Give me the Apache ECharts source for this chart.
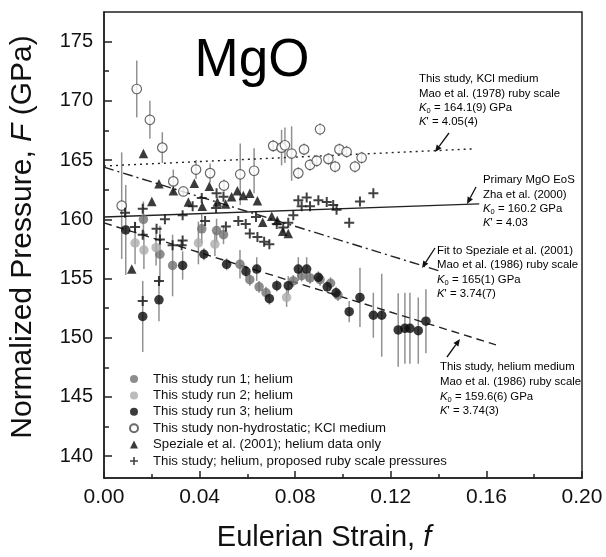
<!DOCTYPE html>
<html><head><meta charset="utf-8">
<script src="https://cdn.jsdelivr.net/npm/echarts@6/dist/echarts.min.js"></script>
<style>html,body{margin:0;padding:0;background:#fff}#c{width:606px;height:557px}</style>
</head><body><div id="c"></div>
<script>
// ---- data: [strain f, normalized pressure F, error] ----
const run1 = [[0.0165,160.0,1.5],[0.0234,157.05,2.4],[0.0287,156.1,2.6],[0.0409,159.2,1.2],[0.0471,159.05,1.0],[0.0500,158.7,0.8],[0.0569,156.2,1.2],[0.0610,154.9,0.5],[0.0649,154.3,0.5],[0.0678,153.8,0.5],[0.0792,154.8,0.5],[0.0827,155.25,0.5],[0.0862,155.05,0.5],[0.0904,154.9,0.5],[0.0948,154.6,0.5],[0.0979,153.6,0.5]];
const run2 = [[0.0130,158.0,1.8],[0.0167,157.4,1.6],[0.0218,157.6,1.5],[0.0395,158.0,1.8],[0.0464,157.9,1.0],[0.0764,153.4,0.8]];
const run3 = [[0.0091,159.1,3.8],[0.0162,151.8,3.0],[0.0230,153.2,1.8],[0.0329,156.1,1.2],[0.0418,157.05,0.5],[0.0513,156.2,0.5],[0.0594,155.6,0.5],[0.0639,155.8,1.0],[0.0692,153.3,0.5],[0.0723,154.4,0.5],[0.0771,154.4,0.8],[0.0813,155.8,1.0],[0.0848,155.8,1.0],[0.0897,155.1,0.5],[0.0934,154.3,0.5],[0.0971,153.8,0.5],[0.1026,152.2,0.9],[0.1071,153.4,2.5],[0.1127,151.9,1.9],[0.1162,151.9,3.5],[0.1231,150.66,3.1],[0.1259,150.8,3.0],[0.1280,150.8,3.0],[0.1315,150.6,2.8],[0.1347,151.4,2.7]];
const kcl = [[0.0074,161.15,4.5],[0.0137,171.0,2.4],[0.0192,168.4,1.6],[0.0244,166.05,1.3],[0.0290,163.2,1.0],[0.0332,162.35,0.3],[0.0385,164.2,0.8],[0.0444,163.9,0.8],[0.0502,162.85,0.5],[0.0570,163.8,2.6],[0.0628,164.1,1.9],[0.0708,166.2,0.5],[0.0743,166.05,1.5],[0.0757,166.25,1.5],[0.0785,165.55,2.3],[0.0813,163.9,0.5],[0.0837,165.9,0.5],[0.0862,164.6,0.5],[0.0890,164.94,0.5],[0.0904,167.6,0.5],[0.0939,165.1,0.5],[0.0967,164.45,0.5],[0.0985,165.9,0.5],[0.1015,165.7,0.5],[0.1050,164.45,0.5],[0.1078,165.2,0.5]];
const speziale = [[0.0116,155.8],[0.0165,165.55],[0.0200,161.5],[0.0230,163.0],[0.0290,162.4],[0.0353,161.45],[0.0378,163.05],[0.0411,161.1],[0.0441,162.8],[0.0474,161.45],[0.0509,161.3],[0.0534,161.9],[0.0558,162.4],[0.0583,162.0],[0.0610,162.2],[0.0642,161.57],[0.0664,159.76],[0.0702,160.26],[0.0725,159.9],[0.0748,159.0],[0.0771,158.8]];
const proposed = [[0.0088,160.55],[0.0130,159.35],[0.0162,160.9],[0.0162,158.7],[0.0162,153.1],[0.0220,159.2],[0.0234,158.3],[0.0230,154.8],[0.0255,160.0],[0.0287,157.8],[0.0329,160.35],[0.0329,158.2],[0.0325,157.8],[0.0371,161.1],[0.0409,161.8],[0.0423,159.85],[0.0471,162.2],[0.0469,160.95],[0.0500,161.9],[0.0510,159.4],[0.0562,159.85],[0.0593,159.6],[0.0610,158.8],[0.0636,160.2],[0.0642,158.5],[0.0670,158.1],[0.0692,157.9],[0.0723,159.6],[0.0750,159.3],[0.0771,159.7],[0.0792,160.35],[0.0813,161.6],[0.0827,161.1],[0.0848,161.85],[0.0862,161.1],[0.0897,161.6],[0.0932,161.45],[0.0959,161.2],[0.0973,160.8],[0.1026,159.7],[0.1071,161.5],[0.1127,162.2]];
// fit lines (endpoints)
const kclFit = [[0,164.5],[0.155,165.95]];
const zhaFit = [[0,160.2],[0.157,161.3]];
const spezFit = [[0,164.4],[0.141,155.6]];
const heFit = [[0,159.7],[0.164,149.4]];
// ticks
const yMajor = [140,145,150,155,160,165,170,175];
const yMinor = [142.5,147.5,152.5,157.5,162.5,167.5,172.5];
const xMajor = [0,0.04,0.08,0.12,0.16,0.2];
const xMinor = [0.02,0.06,0.1,0.14,0.18];
const legendNames = ['This study run 1; helium','This study run 2; helium','This study run 3; helium','This study non-hydrostatic; KCl medium','Speziale et al. (2001); helium data only','This study; helium, proposed ruby scale pressures'];

const FONT = 'Liberation Sans, Arial, sans-serif';
const PLUS = 'path://M4,0H6V4H10V6H6V10H4V6H0V4H4Z';

function errSeries(data){
  return {type:'custom', silent:true, z:1, xAxisIndex:0, yAxisIndex:0,
    data: data.filter(d=>d[2]>0).map(d=>[d[0], d[1]-d[2], d[1]+d[2]]),
    encode:{x:0, y:[1,2]},
    renderItem:(params, api)=>{
      const lo = api.coord([api.value(0), api.value(1)]);
      const hi = api.coord([api.value(0), api.value(2)]);
      return {type:'line', shape:{x1:lo[0],y1:lo[1],x2:hi[0],y2:hi[1]}, style:{stroke:'#919191', lineWidth:1.5}};
    }};
}
function fitLine(data, type){
  return {type:'line', data:data, showSymbol:false, silent:true, z:2, lineStyle:{color:'#222', width:1.4, type:type}};
}
function scatter(name, data, sym, size, style){
  return {type:'scatter', name:name, data:data.map(d=>[d[0],d[1]]), symbol:sym, symbolSize:size, symbolKeepAspect:true, z:5, itemStyle:style};
}
function arrow(x1,y1,x2,y2){
  const a = Math.atan2(y2-y1, x2-x1), L=7, W=3;
  const bx = x2 - L*Math.cos(a), by = y2 - L*Math.sin(a);
  const px = -Math.sin(a)*W, py = Math.cos(a)*W;
  return [
    {type:'line', shape:{x1:x1,y1:y1,x2:bx,y2:by}, style:{stroke:'#111', lineWidth:1.3}},
    {type:'polygon', shape:{points:[[x2,y2],[bx+px,by+py],[bx-px,by-py]]}, style:{fill:'#111'}}
  ];
}
const AF = 11.4;
const annRich = {
  n:{fontSize:AF, fontFamily:FONT, color:'#222'},
  k:{fontSize:AF, fontFamily:FONT, fontStyle:'italic', color:'#222'},
  s:{fontSize:7.5, fontFamily:FONT, color:'#222', padding:[6,0,0,0]}
};
function annText(x, ys, lines){
  return lines.map((t,i)=>({type:'text', x:x, y:ys[i], style:{text:t, rich:annRich, verticalAlign:'middle', align:'left', font:AF+'px '+FONT}}));
}
function k0(v){ return '{k|K}{s|0}{n| = '+v+'}'; }
function kp(v){ return '{k|K}{n|\' = '+v+'}'; }

const graphics = [
  {type:'text', x:252, y:61, style:{text:'MgO', font:'53px '+FONT, fill:'#000', align:'center', verticalAlign:'middle'}},
  ...annText(419,[79,93.5,108,122],['{n|This study, KCl medium}','{n|Mao et al. (1978) ruby scale}',k0('164.1(9) GPa'),kp('4.05(4)')]),
  ...annText(483,[180,194.5,209,223],['{n|Primary MgO EoS}','{n|Zha et al. (2000)}',k0('160.2 GPa'),kp('4.03')]),
  ...annText(437,[251,265,279.5,293.5],['{n|Fit to Speziale et al. (2001)}','{n|Mao et al. (1986) ruby scale}',k0('165(1) GPa'),kp('3.74(7)')]),
  ...annText(440,[367,382,397,411],['{n|This study, helium medium}','{n|Mao et al. (1986) ruby scale}',k0('159.6(6) GPa'),kp('3.74(3)')]),
  ...arrow(449,133,435,152),
  ...arrow(476,187,467,204),
  ...arrow(435,248,422,268),
  ...arrow(447,357,460,339)
];

const chart = echarts.init(document.getElementById('c'), null, {renderer:'canvas'});
const axisLine = {show:true, lineStyle:{color:'#222', width:1.5}};
chart.setOption({
  animation:false,
  backgroundColor:'#fff',
  grid:{left:104, right:24, top:12, bottom:74, show:true, borderColor:'#222', borderWidth:1.5, containLabel:false},
  xAxis:[
    {type:'value', min:0, max:0.2, position:'bottom', axisLine:axisLine, splitLine:{show:false},
     axisTick:{inside:true, length:7, customValues:xMajor, lineStyle:{color:'#222', width:1.5}},
     axisLabel:{customValues:xMajor, formatter:v=>v.toFixed(2), fontSize:21, fontFamily:FONT, color:'#111', margin:9},
     name:'{n|Eulerian Strain, }{i|f}', nameLocation:'middle', nameGap:45,
     nameTextStyle:{padding:[0,38,0,0], rich:{n:{fontSize:29, fontFamily:FONT, color:'#111'}, i:{fontSize:29, fontFamily:FONT, fontStyle:'italic', color:'#111'}}}},
    {type:'value', min:0, max:0.2, position:'bottom', axisLine:{show:false}, splitLine:{show:false},
     axisTick:{inside:true, length:4, customValues:xMinor, lineStyle:{color:'#222', width:1.5}},
     axisLabel:{show:false}}
  ],
  yAxis:[
    {type:'value', min:138.16, max:177.5, position:'left', axisLine:axisLine, splitLine:{show:false},
     axisTick:{inside:true, length:8, customValues:yMajor, lineStyle:{color:'#222', width:1.5}},
     axisLabel:{customValues:yMajor, fontSize:20, fontFamily:FONT, color:'#111', margin:11},
     name:'{n|Normalized Pressure, }{i|F}{n| (GPa)}', nameLocation:'middle', nameGap:66,
     nameTextStyle:{padding:[0,0,0,16], rich:{n:{fontSize:30, fontFamily:FONT, color:'#111'}, i:{fontSize:30, fontFamily:FONT, fontStyle:'italic', color:'#111'}}}},
    {type:'value', min:138.16, max:177.5, position:'left', offset:0, axisLine:{show:false}, splitLine:{show:false},
     axisTick:{inside:true, length:5, customValues:yMinor, lineStyle:{color:'#222', width:1.5}},
     axisLabel:{show:false}}
  ],
  legend:{orient:'vertical', left:129, top:372, itemGap:2.4, itemWidth:8, itemHeight:8, padding:0,
    textStyle:{fontSize:13.2, fontFamily:FONT, color:'#111', lineHeight:14, padding:[0,0,0,10]},
    data:legendNames},
  series:[
    errSeries(run1), errSeries(run2), errSeries(run3), errSeries(kcl),
    fitLine(kclFit,[2,4]), fitLine(zhaFit,'solid'), fitLine(spezFit,[10,4,2,4]), fitLine(heFit,[8,5]),
    scatter(legendNames[0], run1, 'circle', 9.5, {color:'#707070'}),
    scatter(legendNames[1], run2, 'circle', 9.5, {color:'#ababab'}),
    scatter(legendNames[2], run3, 'circle', 9.5, {color:'#0a0a0a'}),
    scatter(legendNames[3], kcl, 'circle', 9.5, {color:'#fff', borderColor:'#444', borderWidth:1.2}),
    scatter(legendNames[4], speziale, 'triangle', 9.5, {color:'#0a0a0a'}),
    scatter(legendNames[5], proposed, PLUS, 10, {color:'#111'})
  ],
  graphic:graphics
});
</script>
</body></html>
